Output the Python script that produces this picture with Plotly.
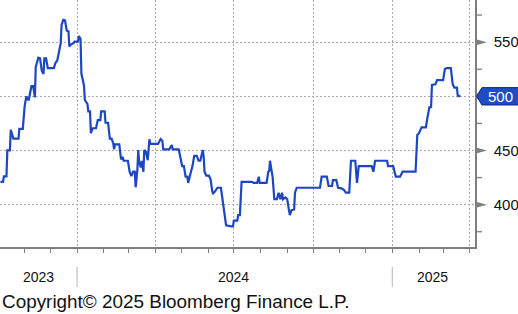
import plotly.graph_objects as go

dates = [
    "2023-10-04", "2023-10-07", "2023-10-08", "2023-10-11", "2023-10-12", "2023-10-15",
    "2023-10-16", "2023-10-19", "2023-10-25", "2023-10-26", "2023-10-30", "2023-11-01",
    "2023-11-03", "2023-11-05", "2023-11-06", "2023-11-09", "2023-11-11", "2023-11-13",
    "2023-11-14", "2023-11-17", "2023-11-19", "2023-11-21", "2023-11-23", "2023-11-24",
    "2023-11-26", "2023-11-28", "2023-12-05", "2023-12-07", "2023-12-09", "2023-12-11",
    "2023-12-12", "2023-12-13", "2023-12-14", "2023-12-16", "2023-12-18", "2023-12-20",
    "2023-12-22", "2023-12-23", "2023-12-25", "2023-12-28", "2023-12-29", "2024-01-02",
    "2024-01-03", "2024-01-05", "2024-01-06", "2024-01-09", "2024-01-10", "2024-01-13",
    "2024-01-14", "2024-01-16", "2024-01-17", "2024-01-19", "2024-01-23", "2024-01-25",
    "2024-01-28", "2024-01-29", "2024-02-02", "2024-02-03", "2024-02-06", "2024-02-08",
    "2024-02-10", "2024-02-12", "2024-02-13", "2024-02-14", "2024-02-19", "2024-02-21",
    "2024-02-23", "2024-02-24", "2024-02-29", "2024-03-02", "2024-03-04", "2024-03-06",
    "2024-03-08", "2024-03-09", "2024-03-11", "2024-03-12", "2024-03-13", "2024-03-15",
    "2024-03-16", "2024-03-18", "2024-03-19", "2024-03-21", "2024-03-23", "2024-03-25",
    "2024-03-26", "2024-04-04", "2024-04-07", "2024-04-09", "2024-04-10", "2024-04-17",
    "2024-04-20", "2024-04-21", "2024-04-28", "2024-04-30", "2024-05-02", "2024-05-04",
    "2024-05-06", "2024-05-08", "2024-05-09", "2024-05-11", "2024-05-14", "2024-05-16",
    "2024-05-19", "2024-05-21", "2024-05-23", "2024-05-26", "2024-05-27", "2024-05-28",
    "2024-05-30", "2024-06-02", "2024-06-04", "2024-06-06", "2024-06-07", "2024-06-09",
    "2024-06-12", "2024-06-16", "2024-06-18", "2024-06-20", "2024-06-22", "2024-06-28",
    "2024-06-30", "2024-07-01", "2024-07-05", "2024-07-06", "2024-07-08", "2024-07-10",
    "2024-07-22", "2024-07-24", "2024-07-28", "2024-07-30", "2024-07-31", "2024-08-08",
    "2024-08-10", "2024-08-11", "2024-08-12", "2024-08-14", "2024-08-15", "2024-08-17",
    "2024-08-20", "2024-08-22", "2024-08-24", "2024-08-26", "2024-08-27", "2024-08-30",
    "2024-09-01", "2024-09-03", "2024-09-04", "2024-09-06", "2024-09-09", "2024-09-10",
    "2024-09-12", "2024-10-09", "2024-10-11", "2024-10-17", "2024-10-19", "2024-10-23",
    "2024-10-24", "2024-10-28", "2024-10-30", "2024-11-03", "2024-11-06", "2024-11-08",
    "2024-11-12", "2024-11-14", "2024-11-19", "2024-11-21", "2024-11-23", "2024-12-08",
    "2024-12-10", "2024-12-12", "2024-12-26", "2024-12-27", "2025-01-02", "2025-01-05",
    "2025-01-10", "2025-01-13", "2025-01-28", "2025-01-30", "2025-02-01", "2025-02-04",
    "2025-02-09", "2025-02-11", "2025-02-13", "2025-02-15", "2025-02-16", "2025-02-20",
    "2025-02-22", "2025-03-01", "2025-03-03", "2025-03-05", "2025-03-10", "2025-03-12",
    "2025-03-14", "2025-03-17", "2025-03-18", "2025-03-21",
]

values = [
    421, 421, 426, 426, 450, 450,
    469, 461, 461, 470, 470, 490,
    500, 497, 497, 509.5, 509.5, 499,
    527, 535.6, 535, 523.6, 520.6, 535,
    535, 526, 526, 531, 533, 540,
    545, 549, 566, 570.5, 570, 560.6,
    560, 546, 548, 549, 550.4, 550.4,
    555.7, 553, 521, 510, 496.6, 493,
    486, 486, 466, 470.5, 470.5, 478,
    478, 486, 486, 475.6, 475.6, 461,
    461, 456.6, 451, 455.7, 455.7, 441.8,
    444, 440.5, 440.5, 430.4, 426.4, 430.4,
    430.4, 416, 432, 450.4, 439.6, 434.4,
    440.5, 430.4, 450.4, 448.8, 441, 460.3,
    456, 456, 460.6, 459, 451, 451,
    455, 451, 451, 444, 435.6, 435.6,
    425.8, 425.8, 420, 426.7, 435.6, 445,
    445, 440.5, 440.5, 450.4, 444, 430.4,
    426.7, 426.7, 423.4, 412, 410.4, 412,
    415.6, 415.6, 405, 395, 381, 380,
    380, 385.2, 385.2, 390.4, 390.4, 421,
    421, 420, 420, 425.8, 420, 420,
    430.4, 431, 440.5, 430.4, 425.8, 405,
    405, 411, 405, 411, 405, 406.7,
    405, 395, 390.4, 395, 395.6, 411,
    415.6, 415.6, 425.8, 425.8, 417.2, 417.2,
    422.7, 422.7, 415.6, 415, 413.5, 411,
    411, 440.5, 440.5, 420, 435.6, 435.6,
    430.4, 440.5, 440.5, 435.6, 435.6, 425.8,
    425.8, 430.4, 430.4, 464.3, 466, 471.4,
    471.4, 481.2, 489.8, 490, 510.4, 511,
    515, 515, 525, 526, 526, 511.4,
    508, 508, 500.6, 500,
]

y_ticks = [400, 450, 500, 550]
minor_y_ticks = [375, 425, 475, 525, 575]
year_labels = ["2023", "2024", "2025"]
year_label_dates = ["2023-11-17", "2024-07-01", "2025-02-17"]
year_starts = ["2024-01-01", "2025-01-01"]

W, H = 518, 314
ML, MR, MT, MB = 0, 43, 0, 67
plot_w = W - ML - MR
plot_h = H - MT - MB
y_range = [360.9, 588.9]
units_per_px = (y_range[1] - y_range[0]) / plot_h

LINE = "#1d46c2"
GRID = "#ababab"
AXIS = "#7f7f7f"
FONT = "Liberation Sans"

fig = go.Figure()
fig.add_trace(go.Scatter(
    x=dates, y=values, mode="lines",
    line=dict(color=LINE, width=2.2),
    hoverinfo="skip", showlegend=False,
))

last = values[-1]
box_half = 8.7 * units_per_px

shapes = []
# triangle major ticks on right axis
for v in y_ticks:
    hh = 3.0 * units_per_px
    x0 = 1 + 1 / plot_w
    x1 = 1 + 12 / plot_w
    shapes.append(dict(
        type="path", xref="paper", yref="y",
        path=f"M {x0} {v - hh} L {x1} {v} L {x0} {v + hh} Z",
        fillcolor=AXIS, line=dict(width=0), layer="above",
    ))
# minor ticks
for v in minor_y_ticks:
    shapes.append(dict(
        type="line", xref="paper", yref="y",
        x0=1, x1=1 + 7 / plot_w, y0=v, y1=v,
        line=dict(color=AXIS, width=1.3),
    ))
# year separators
for d in year_starts:
    shapes.append(dict(
        type="line", xref="x", yref="paper",
        x0=d, x1=d, y0=-20 / plot_h, y1=-40 / plot_h,
        line=dict(color="#c0c0c0", width=1.2),
    ))

# last value label box
xa = 1 + 1.5 / plot_w
xb = 1 + 7 / plot_w
xc = 1 + 45 / plot_w
shapes.append(dict(
    type="path", xref="paper", yref="y",
    path=(f"M {xa} {last} L {xb} {last + box_half} L {xc} {last + box_half} "
          f"L {xc} {last - box_half} L {xb} {last - box_half} Z"),
    fillcolor="#1f4bc4", line=dict(color="#0d2a80", width=1), layer="above",
))

annotations = []
annotations.append(dict(
    xref="paper", yref="y", x=1 + 25 / plot_w, y=last,
    text=f"{last:.0f}", showarrow=False, xanchor="center", yanchor="middle",
    font=dict(family=FONT, size=15, color="white"),
))
for lab, d in zip(year_labels, year_label_dates):
    annotations.append(dict(
        xref="x", yref="paper", x=d, y=-30 / plot_h,
        text=lab, showarrow=False, xanchor="center", yanchor="middle",
        font=dict(family=FONT, size=14, color="#111111"),
    ))
annotations.append(dict(
    xref="paper", yref="paper", x=0, y=-54 / plot_h,
    text="Copyright\u00a9 2025 Bloomberg Finance L.P.", showarrow=False,
    xanchor="left", yanchor="middle",
    font=dict(family=FONT, size=18.9, color="#111111"),
))

# tick labels hidden where the last-value box covers them
tick_text = ["" if abs(v - last) < 2 * box_half else str(v) for v in y_ticks]

fig.update_layout(
    width=W, height=H, autosize=False,
    margin=dict(l=ML, r=MR, t=MT, b=MB, pad=0),
    paper_bgcolor="white", plot_bgcolor="white",
    shapes=shapes, annotations=annotations,
    xaxis=dict(
        type="date", range=["2023-10-03 12:00", "2025-04-07"],
        tick0="2024-01-01", dtick="M3",
        showgrid=True, gridcolor=GRID, griddash="2px,2px", gridwidth=1,
        showline=True, linecolor=AXIS, linewidth=1.5,
        ticks="outside", ticklen=4, tickcolor=AXIS, tickwidth=1,
        showticklabels=False, zeroline=False, automargin=False,
        minor=dict(dtick="M1", tick0="2024-01-01", ticks="outside", ticklen=4,
                   tickcolor=AXIS, showgrid=False),
    ),
    yaxis=dict(
        side="right", range=y_range, tickvals=y_ticks,
        ticktext=tick_text,
        showgrid=True, gridcolor=GRID, griddash="2px,2px", gridwidth=1,
        showline=True, linecolor=AXIS, linewidth=1.5,
        ticks="", ticklabelstandoff=14,
        tickfont=dict(family=FONT, size=15, color="#111111"),
        zeroline=False, automargin=False,
    ),
)

fig.write_html("out.html")
